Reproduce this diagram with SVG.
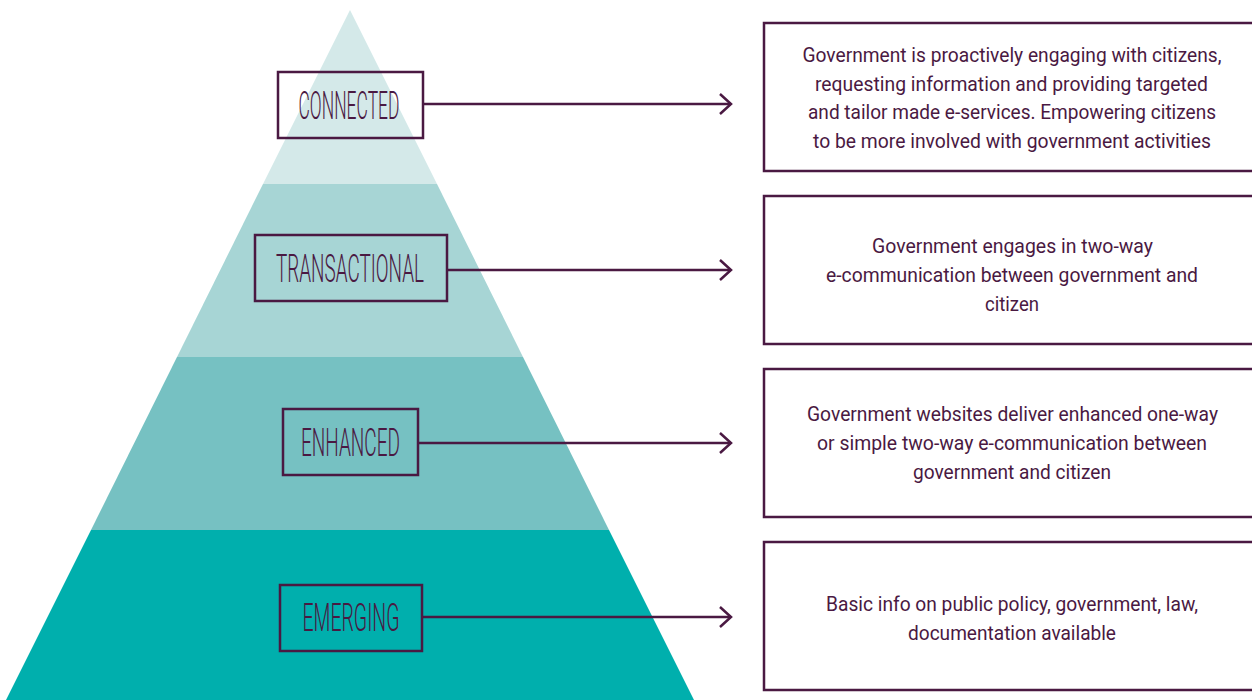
<svg xmlns="http://www.w3.org/2000/svg" width="1252" height="700" viewBox="0 0 1252 700">
  <defs>
    <style>
      .lbl { fill: none; stroke: #4a1942; stroke-width: 2.5; }
      .lt { font-family: Roboto, "Liberation Sans", sans-serif; font-weight: 300; font-size: 38px; fill: #4a1942; text-anchor: middle; }
      .desc { fill: #ffffff; stroke: #4a1942; stroke-width: 2.5; }
      .dt { font-family: Roboto, "Liberation Sans", sans-serif; font-size: 20px; fill: #4a1942; text-anchor: middle; }
      .conn { fill: none; stroke: #4a1942; stroke-width: 2.5; }
    </style>
    <marker id="chev" viewBox="0 0 14 22" refX="12.5" refY="11" markerWidth="14" markerHeight="22" markerUnits="userSpaceOnUse" orient="auto">
      <path d="M1.5,1 L12.5,11 L1.5,21" fill="none" stroke="#4a1942" stroke-width="2.5"/>
    </marker>
  </defs>
  <rect width="1252" height="700" fill="#ffffff"/>
  <g id="pyramid">
    <polygon points="350,10 437,184 263,184" fill="#d4e9e9"/>
    <polygon points="263,184 437,184 523,357 177,357" fill="#a7d5d5"/>
    <polygon points="177,357 523,357 609,530 91,530" fill="#76c1c2"/>
    <polygon points="91,530 609,530 694,700 6,700" fill="#00afad"/>
  </g>
  <g id="connectors">
    <line class="conn" x1="423" y1="104" x2="731" y2="104" marker-end="url(#chev)"/>
    <line class="conn" x1="447" y1="270" x2="731" y2="270" marker-end="url(#chev)"/>
    <line class="conn" x1="418" y1="443" x2="731" y2="443" marker-end="url(#chev)"/>
    <line class="conn" x1="422" y1="617" x2="731" y2="617" marker-end="url(#chev)"/>
  </g>
  <g id="connected">
    <rect class="lbl" x="278" y="72" width="145" height="66"/>
    <text class="lt" x="349" y="119" textLength="101" lengthAdjust="spacingAndGlyphs">CONNECTED</text>
  </g>
  <g id="transactional">
    <rect class="lbl" x="255" y="235" width="192" height="66"/>
    <text class="lt" x="350" y="282" textLength="148" lengthAdjust="spacingAndGlyphs">TRANSACTIONAL</text>
  </g>
  <g id="enhanced">
    <rect class="lbl" x="283" y="409" width="135" height="66"/>
    <text class="lt" x="350.5" y="456" textLength="99" lengthAdjust="spacingAndGlyphs">ENHANCED</text>
  </g>
  <g id="emerging">
    <rect class="lbl" x="280" y="585" width="142" height="66"/>
    <text class="lt" x="351" y="631" textLength="97" lengthAdjust="spacingAndGlyphs">EMERGING</text>
  </g>
  <g id="desc-connected">
    <path class="desc" d="M1252,23 H764 V171 H1252"/>
    <text class="dt" x="1012" y="62" textLength="419" lengthAdjust="spacingAndGlyphs">Government is proactively engaging with citizens,</text>
    <text class="dt" x="1011.5" y="91" textLength="393" lengthAdjust="spacingAndGlyphs">requesting information and providing targeted</text>
    <text class="dt" x="1012" y="119" textLength="408" lengthAdjust="spacingAndGlyphs">and tailor made e-services. Empowering citizens</text>
    <text class="dt" x="1012" y="148" textLength="398" lengthAdjust="spacingAndGlyphs">to be more involved with government activities</text>
  </g>
  <g id="desc-transactional">
    <path class="desc" d="M1252,196 H764 V344 H1252"/>
    <text class="dt" x="1012.5" y="253" textLength="281" lengthAdjust="spacingAndGlyphs">Government engages in two-way</text>
    <text class="dt" x="1012" y="282" textLength="372" lengthAdjust="spacingAndGlyphs">e-communication between government and</text>
    <text class="dt" x="1012" y="311" textLength="54" lengthAdjust="spacingAndGlyphs">citizen</text>
  </g>
  <g id="desc-enhanced">
    <path class="desc" d="M1252,369 H764 V517 H1252"/>
    <text class="dt" x="1012.5" y="421" textLength="411" lengthAdjust="spacingAndGlyphs">Government websites deliver enhanced one-way</text>
    <text class="dt" x="1012" y="450" textLength="390" lengthAdjust="spacingAndGlyphs">or simple two-way e-communication between</text>
    <text class="dt" x="1012" y="479" textLength="198" lengthAdjust="spacingAndGlyphs">government and citizen</text>
  </g>
  <g id="desc-emerging">
    <path class="desc" d="M1252,542 H764 V690 H1252"/>
    <text class="dt" x="1012" y="611" textLength="372" lengthAdjust="spacingAndGlyphs">Basic info on public policy, government, law,</text>
    <text class="dt" x="1012" y="640" textLength="208" lengthAdjust="spacingAndGlyphs">documentation available</text>
  </g>
</svg>
